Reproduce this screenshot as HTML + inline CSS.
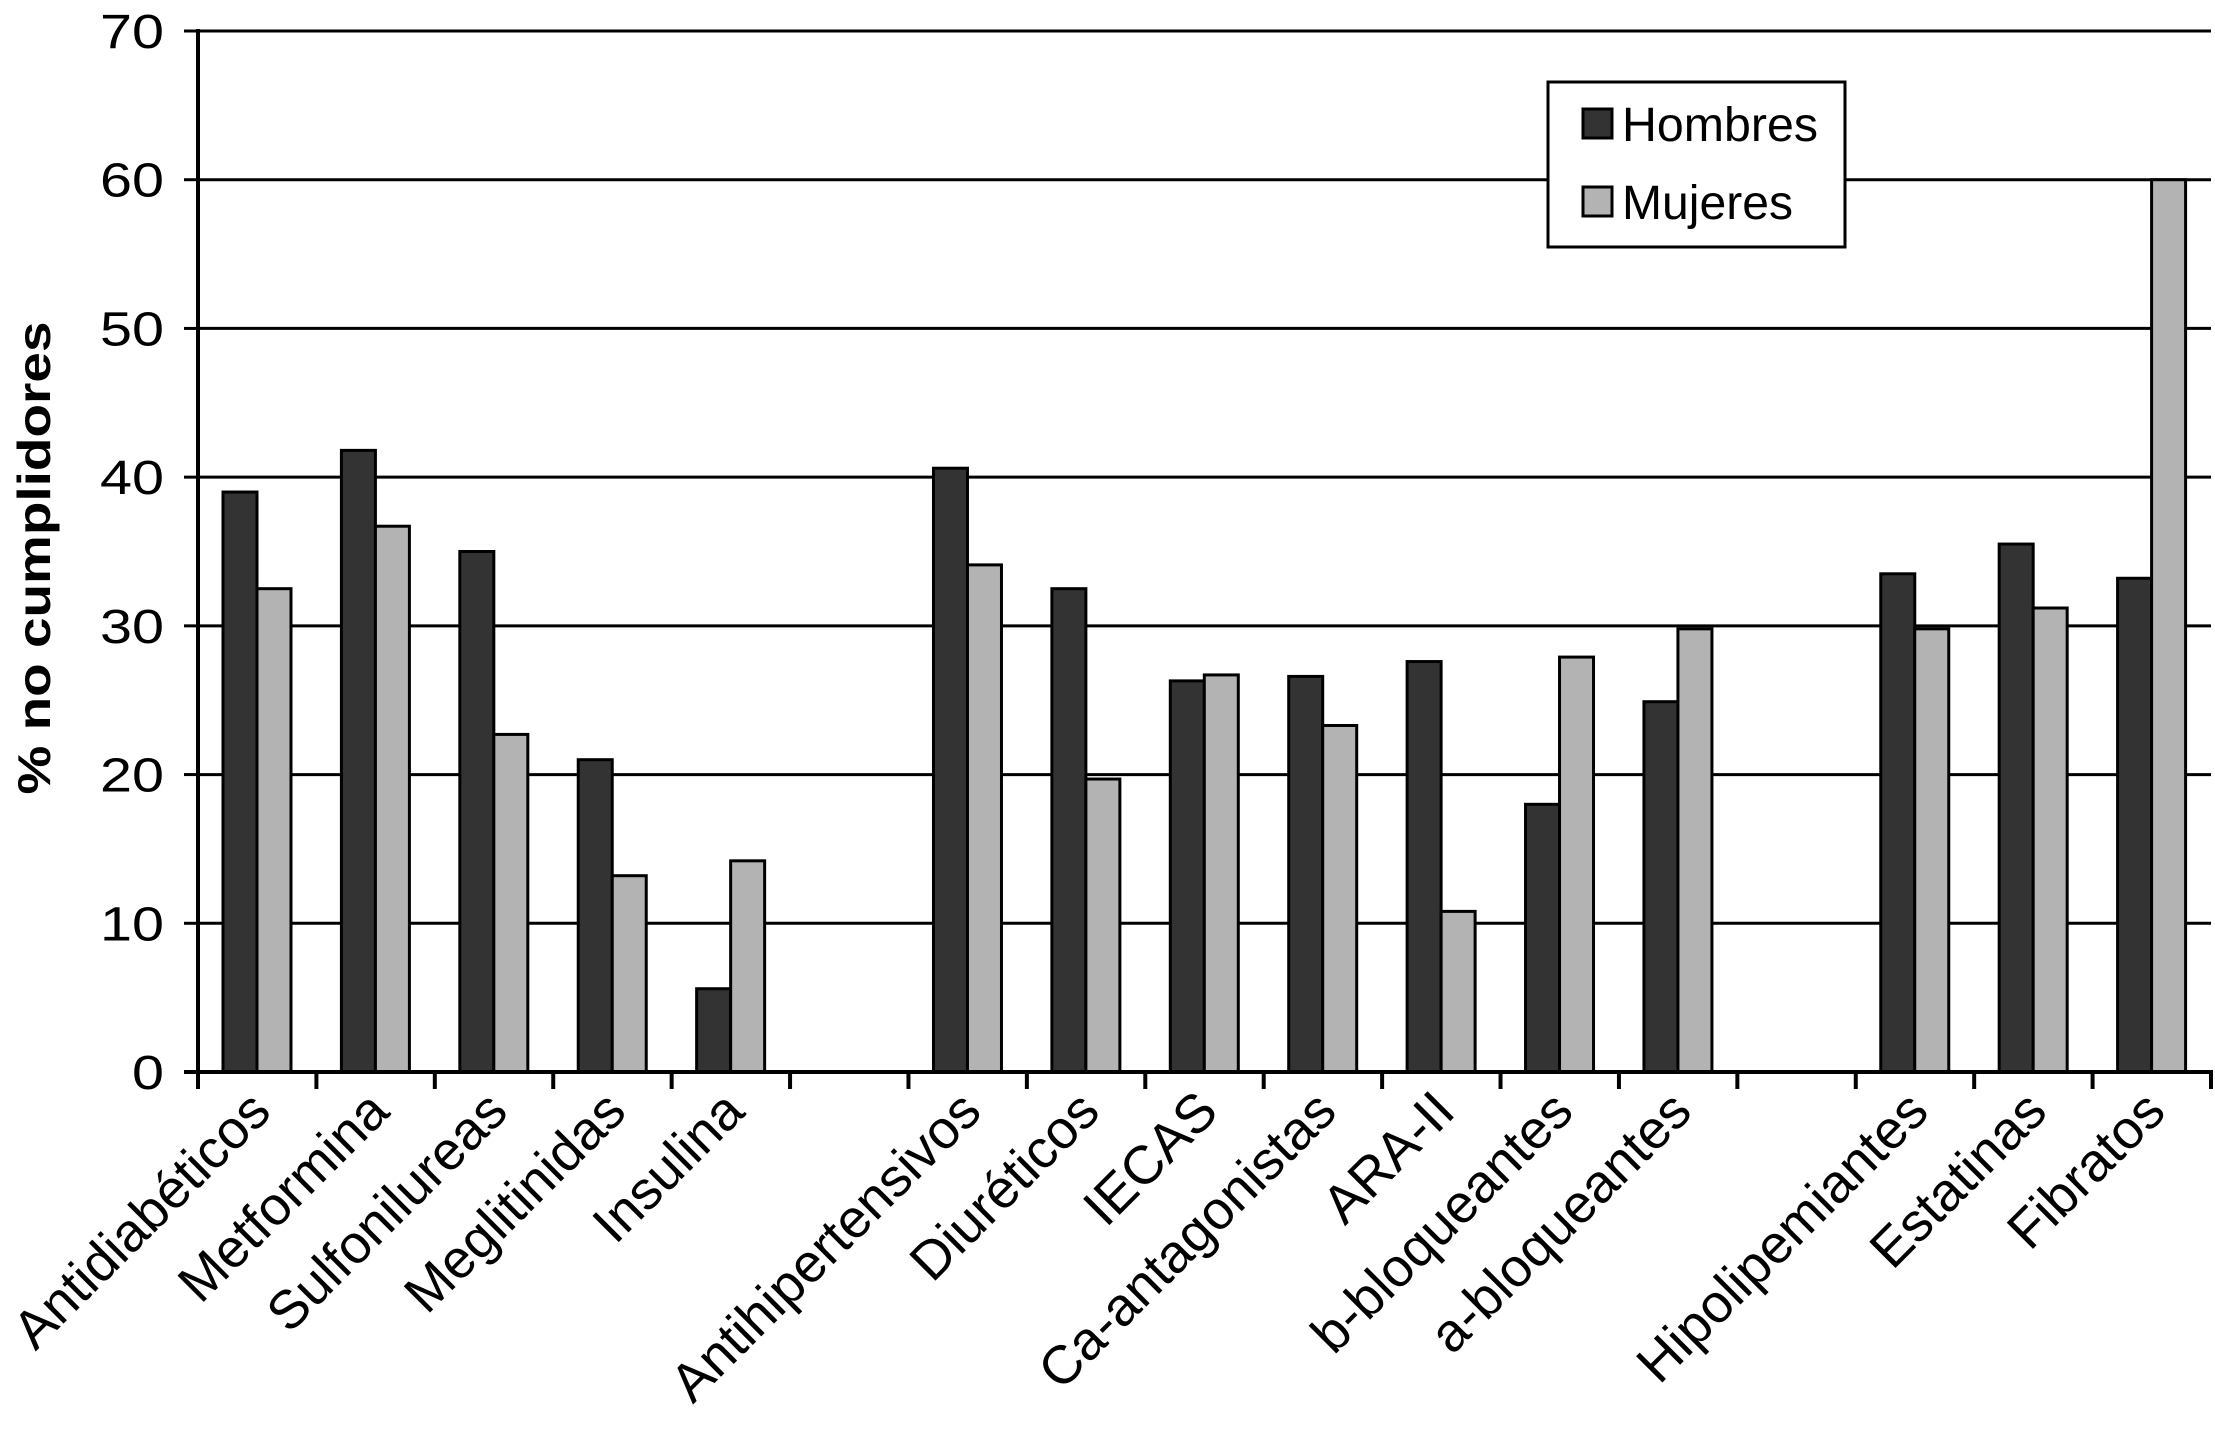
<!DOCTYPE html>
<html><head><meta charset="utf-8"><style>
html,body{margin:0;padding:0;background:#fff;}
svg{display:block;font-family:"Liberation Sans",Arial,sans-serif;}
</style></head><body>
<svg id="chart" width="2215" height="1437" viewBox="0 0 2215 1437">
<g id="grid"></g>
<g id="bars"></g>
<g id="axes"></g>
<g id="xlabels"></g>
<text transform="translate(50,558) rotate(-90)" text-anchor="middle" font-size="46" font-weight="bold" textLength="473" lengthAdjust="spacingAndGlyphs">% no cumplidores</text>
<g>
<rect x="1548" y="82" width="297" height="165" fill="#fff" stroke="#000" stroke-width="3"/>
<rect x="1583" y="109" width="29" height="29" fill="#333" stroke="#000" stroke-width="3"/>
<text x="1622" y="141" font-size="48" textLength="196" lengthAdjust="spacingAndGlyphs">Hombres</text>
<rect x="1583" y="187" width="29" height="29" fill="#b3b3b3" stroke="#000" stroke-width="3"/>
<text x="1622" y="219" font-size="48" textLength="171" lengthAdjust="spacingAndGlyphs">Mujeres</text>
</g>
</svg>
<script>
const categories = ["Antidiabéticos","Metformina","Sulfonilureas","Meglitinidas","Insulina","","Antihipertensivos","Diuréticos","IECAS","Ca-antagonistas","ARA-II","b-bloqueantes","a-bloqueantes","","Hipolipemiantes","Estatinas","Fibratos"];
const hombres = [39, 41.8, 35, 21, 5.6, null, 40.6, 32.5, 26.3, 26.6, 27.6, 18, 24.9, null, 33.5, 35.5, 33.2];
const mujeres = [32.5, 36.7, 22.7, 13.2, 14.2, null, 34.1, 19.7, 26.7, 23.3, 10.8, 27.9, 29.8, null, 29.8, 31.2, 60];
const yTicks = [0,10,20,30,40,50,60,70];

const NS="http://www.w3.org/2000/svg";
const L=198, R=2211, T=31, B=1072, YMAX=70;
const slot=(R-L)/categories.length;
function y(v){return B-(v/YMAX)*(B-T);}
function xSlot(i){return L+i*slot;}
function mk(tag,attrs,parent){const e=document.createElementNS(NS,tag);for(const k in attrs)e.setAttribute(k,attrs[k]);parent.appendChild(e);return e;}
const grid=document.getElementById('grid'),bars=document.getElementById('bars'),axes=document.getElementById('axes'),xl=document.getElementById('xlabels');
yTicks.forEach(t=>{
  if(t>0){const g=mk('line',{x1:L,x2:R,y1:y(t),y2:y(t),stroke:'#000','stroke-width':3},grid);
  
  }
  const tk=mk('line',{x1:L-14,x2:L,y1:y(t),y2:y(t),stroke:'#000','stroke-width':3},axes);
  
  
  const s=String(t);
  const tx=mk('text',{x:164,y:y(t)+17,'text-anchor':'end','font-size':48,textLength:32*s.length,lengthAdjust:'spacingAndGlyphs'},axes);
  tx.textContent=s;
  
  
});
const bw=34, off=25;
categories.forEach((c,i)=>{
  const x0=xSlot(i)+off;
  if(hombres[i]!=null){const r=mk('rect',{x:x0,y:y(hombres[i]),width:bw,height:B-y(hombres[i]),fill:'#333',stroke:'#000','stroke-width':3},bars);
  
  }
  if(mujeres[i]!=null){const r=mk('rect',{x:x0+bw,y:y(mujeres[i]),width:bw,height:B-y(mujeres[i]),fill:'#b3b3b3',stroke:'#000','stroke-width':3},bars);
  
  }
  if(c){const cx=xSlot(i)+slot/2+16;
  const t=mk('text',{transform:`translate(${cx},1114) rotate(-45)`,'text-anchor':'end','font-size':54},xl);
  t.textContent=c;
  
  }
});
for(let i=0;i<=categories.length;i++){
  const tk=mk('line',{x1:xSlot(i),x2:xSlot(i),y1:B,y2:B+17,stroke:'#000','stroke-width':4},axes);
  
  
}
const ya=mk('line',{x1:L,x2:L,y1:T-2,y2:B+17,stroke:'#000','stroke-width':4},axes);


const xa=mk('line',{x1:L-14,x2:R+2,y1:B,y2:B,stroke:'#000','stroke-width':4},axes);


</script>
</body></html>
